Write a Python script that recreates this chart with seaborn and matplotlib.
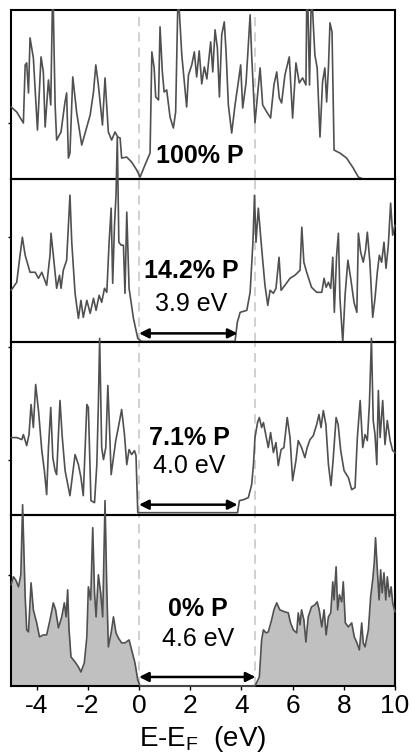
import numpy as np
import pandas as pd
import seaborn as sns
import matplotlib.pyplot as plt

# DOS curves (energy in eV, DOS in arbitrary units)
e_100 = [-5.00, -4.78, -4.52, -4.45, -4.39, -4.32, -4.26, -4.13, -3.97, -3.83, -3.74, -3.67, -3.54, -3.45, -3.39, -3.35,
         -3.28, -3.22, -3.05, -2.90, -2.83, -2.76, -2.70, -2.59, -2.44, -2.24, -1.91, -1.78, -1.69, -1.59, -1.43, -1.33,
         -1.20, -1.07, -0.94, -0.83, -0.74, -0.68, -0.48, -0.29, -0.09, 0.04, 0.23, 0.43, 0.50, 0.59, 0.65, 0.76, 0.82,
         0.91, 0.98, 1.08, 1.21, 1.34, 1.43, 1.51, 1.57, 1.67, 1.86, 1.93, 2.06, 2.16, 2.25, 2.35, 2.45, 2.55, 2.65,
         2.72, 2.80, 2.88, 2.97, 3.06, 3.14, 3.23, 3.33, 3.40, 3.49, 3.62, 3.75, 3.88, 3.97, 4.05, 4.18, 4.27, 4.34,
         4.40, 4.47, 4.53, 4.63, 4.73, 4.83, 4.99, 5.14, 5.27, 5.38, 5.48, 5.57, 5.70, 5.87, 6.00, 6.13, 6.26, 6.39,
         6.52, 6.55, 6.60, 6.66, 6.72, 6.78, 6.87, 6.96, 7.07, 7.17, 7.26, 7.33, 7.40, 7.46, 7.54, 7.62, 7.85, 8.11,
         8.37, 8.57, 8.76, 10.00]
dos_100 = [72, 67, 56, 114, 116, 86, 141, 121, 49, 122, 107, 52, 99, 74, 169, 169,
           74, 39, 47, 76, 86, 21, 26, 102, 67, 34, 64, 87, 114, 94, 54, 101,
           47, 39, 47, 42, 41, 21, 22, 17, 9, 2, 14, 26, 127, 111, 82, 79, 152,
           107, 87, 89, 62, 51, 67, 169, 169, 124, 72, 104, 114, 127, 102, 128, 95, 112, 100,
           118, 137, 107, 149, 131, 82, 144, 157, 127, 74, 46, 74, 97, 114, 71, 96, 134, 164,
           124, 87, 56, 84, 111, 74, 67, 61, 94, 107, 81, 76, 104, 122, 61, 116, 96, 101,
           94, 169, 169, 94, 169, 169, 124, 111, 42, 97, 111, 77, 111, 156, 147, 29, 26, 21,
           11, 2, 0, 0]

e_142 = [-5.00, -4.78, -4.65, -4.56, -4.45, -4.26, -4.06, -3.93, -3.80, -3.61, -3.48, -3.44, -3.35, -3.22, -3.11, -3.05,
         -2.96, -2.83, -2.70, -2.63, -2.50, -2.37, -2.27, -2.18, -2.04, -1.91, -1.78, -1.68, -1.56, -1.46, -1.35, -1.26,
         -1.17, -1.09, -1.03, -0.96, -0.90, -0.85, -0.79, -0.70, -0.61, -0.55, -0.48, -0.39, -0.22, -0.05, 0.10, 3.75,
         3.84, 3.95, 4.21, 4.34, 4.45, 4.51, 4.57, 4.66, 4.79, 4.92, 5.03, 5.12, 5.25, 5.35, 5.47, 5.55, 5.70, 5.90,
         6.09, 6.29, 6.36, 6.44, 6.55, 6.74, 6.94, 7.14, 7.23, 7.31, 7.40, 7.49, 7.57, 7.63, 7.72, 7.79, 7.85, 7.96,
         8.05, 8.16, 8.27, 8.40, 8.51, 8.57, 8.66, 8.76, 8.85, 8.92, 9.02, 9.13, 9.22, 9.31, 9.39, 9.48, 9.57, 9.65,
         9.74, 9.83, 9.91, 10.00]
dos_142 = [52, 60, 87, 105, 87, 70, 70, 64, 70, 57, 87, 109, 87, 54, 67, 54,
           72, 82, 147, 100, 49, 24, 42, 25, 42, 29, 44, 32, 47, 40, 54, 50,
           100, 134, 59, 117, 147, 205, 100, 97, 97, 49, 130, 54, 24, 4, 1, 1,
           20, 30, 32, 50, 100, 147, 100, 134, 94, 57, 37, 52, 49, 54, 85, 52, 57, 64,
           67, 72, 115, 80, 70, 55, 50, 50, 64, 55, 60, 54, 85, 30, 87, 109, 44, 0,
           47, 82, 64, 40, 30, 109, 90, 80, 92, 110, 80, 25, 44, 70, 87, 80, 100, 74,
           97, 139, 107, 117]

e_71 = [-5.00, -4.78, -4.58, -4.52, -4.39, -4.30, -4.22, -4.13, -4.04, -3.93, -3.80, -3.70, -3.61, -3.54, -3.45, -3.37,
        -3.28, -3.22, -3.15, -3.09, -3.00, -2.89, -2.70, -2.50, -2.37, -2.27, -2.18, -2.04, -1.98, -1.88, -1.74, -1.65,
        -1.59, -1.54, -1.46, -1.39, -1.30, -1.22, -1.16, -1.09, -1.00, -0.91, -0.81, -0.68, -0.57, -0.48, -0.39, -0.29,
        -0.18, -0.12, -0.05, 3.85, 3.92, 4.08, 4.27, 4.40, 4.47, 4.53, 4.63, 4.70, 4.79, 4.86, 4.95, 5.05, 5.14, 5.25,
        5.35, 5.44, 5.55, 5.66, 5.79, 5.90, 6.00, 6.13, 6.22, 6.35, 6.48, 6.57, 6.68, 6.81, 6.94, 7.03, 7.11, 7.20,
        7.30, 7.40, 7.50, 7.59, 7.70, 7.78, 7.88, 8.01, 8.18, 8.31, 8.44, 8.53, 8.64, 8.74, 8.83, 8.92, 9.00, 9.08,
        9.15, 9.22, 9.29, 9.35, 9.42, 9.52, 9.61, 9.70, 9.81, 9.91, 10.00]
dos_71 = [77, 77, 75, 80, 69, 80, 110, 87, 130, 104, 64, 44, 20, 67, 107, 57,
          44, 40, 80, 114, 77, 44, 19, 60, 50, 37, 19, 110, 107, 14, 12, 50,
          110, 176, 67, 55, 67, 129, 90, 40, 57, 74, 87, 105, 80, 50, 65, 60,
          64, 59, 2, 2, 14, 15, 17, 30, 50, 77, 92, 97, 87, 92, 80, 67, 82, 62,
          72, 49, 65, 67, 97, 77, 34, 54, 74, 67, 57, 67, 75, 79, 90, 100, 87, 104,
          90, 50, 29, 57, 97, 90, 64, 44, 37, 25, 27, 77, 114, 67, 80, 74, 110, 176,
          94, 80, 50, 124, 77, 114, 70, 94, 74, 64, 62]

e_0 = [-5.00, -4.91, -4.82, -4.71, -4.62, -4.55, -4.45, -4.39, -4.32, -4.22, -4.13, -4.00, -3.89, -3.74, -3.61, -3.48,
       -3.35, -3.26, -3.15, -3.02, -2.92, -2.85, -2.79, -2.74, -2.66, -2.50, -2.37, -2.27, -2.14, -2.04, -1.98, -1.89,
       -1.81, -1.74, -1.68, -1.59, -1.50, -1.42, -1.33, -1.26, -1.20, -1.09, -1.00, -0.90, -0.81, -0.68, -0.55, -0.39,
       -0.29, -0.16, -0.05, 0.04, 4.53, 4.70, 4.79, 4.86, 4.96, 5.05, 5.18, 5.27, 5.38, 5.50, 5.70, 5.83, 5.92, 6.03,
       6.16, 6.22, 6.29, 6.35, 6.44, 6.52, 6.61, 6.74, 6.87, 6.96, 7.04, 7.14, 7.23, 7.31, 7.40, 7.49, 7.57, 7.62,
       7.70, 7.76, 7.83, 7.92, 7.98, 8.06, 8.18, 8.31, 8.41, 8.50, 8.61, 8.70, 8.76, 8.83, 8.96, 9.05, 9.13, 9.19,
       9.24, 9.31, 9.38, 9.44, 9.50, 9.57, 9.64, 9.70, 9.78, 9.85, 9.91, 10.00]
dos_0 = [101, 109, 106, 99, 111, 181, 89, 56, 54, 103, 76, 63, 49, 51, 51, 66,
         83, 76, 58, 69, 83, 69, 96, 58, 29, 24, 19, 14, 23, 49, 99, 86,
         158, 93, 69, 111, 93, 69, 185, 96, 39, 53, 69, 53, 48, 43, 43, 46,
         36, 23, 6, 0, 0, 9, 46, 56, 53, 54, 66, 76, 83, 76, 74, 73, 63, 56,
         53, 73, 61, 76, 66, 44, 69, 79, 81, 84, 76, 59, 76, 51, 69, 73, 104, 86,
         119, 76, 91, 84, 104, 63, 59, 63, 49, 44, 36, 63, 43, 39, 56, 89, 106, 123,
         148, 116, 86, 116, 93, 113, 86, 109, 89, 99, 83, 74]

labels = ["100% P", "14.2% P", "7.1% P", "0% P"]
gap_text = [None, "3.9 eV", "4.0 eV", "4.6 eV"]
gap_end = [None, 3.85, 3.85, 4.55]
edges = [0.0, 4.55]

sns.set_style("ticks")
plt.rcParams['font.family'] = ['Liberation Sans', 'DejaVu Sans']
plt.rcParams['mathtext.fontset'] = 'custom'
plt.rcParams['mathtext.rm'] = 'Liberation Sans'
plt.rcParams['axes.unicode_minus'] = False
plt.rcParams['text.color'] = 'black'
plt.rcParams['xtick.color'] = 'black'
plt.rcParams['ytick.color'] = 'black'
plt.rcParams['axes.labelcolor'] = 'black'

curves = [(e_100, dos_100), (e_142, dos_142), (e_71, dos_71), (e_0, dos_0)]
heights = [169, 163, 172, 171]
yticks = [[56], [105], [55, 167], [111]]
label_pos = [(2.38, 23), (2.03, 71), (1.95, 77), (2.3, 77)]
gap_pos = [None, (2.03, 38), (1.95, 49), (2.3, 47)]
arrow_y = [None, 9, 10, 9]

fig = plt.figure(figsize=(4.11, 7.55), dpi=100)
gs = fig.add_gridspec(4, 1, height_ratios=heights, hspace=0,
                      left=0.027, right=0.961, top=0.987, bottom=0.0914)

line_col = "#505050"
for i, (e, d) in enumerate(curves):
    ax = fig.add_subplot(gs[i])
    ax.set_facecolor("none")
    df = pd.DataFrame({"E": e, "DOS": d})
    for x0 in edges:
        ax.axvline(x0, color="#c4c4c4", ls=(0, (6, 4)), lw=1.1, zorder=0)
    if i == 3:
        ax.fill_between(df["E"], df["DOS"], color="#c0c0c0", lw=0, zorder=1)
    sns.lineplot(data=df, x="E", y="DOS", ax=ax, color=line_col, lw=1.2,
                 estimator=None, sort=False, clip_on=False, zorder=3)
    ax.set_xlim(-5, 10)
    ax.set_ylim(0, heights[i])
    ax.set_xlabel("")
    ax.set_ylabel("")
    ax.set_yticks(yticks[i])
    ax.set_yticklabels([])
    ax.tick_params(axis="y", direction="out", length=2, width=1)
    for s in ax.spines.values():
        s.set_linewidth(1.5)
        s.set_color("black")

    ax.text(*label_pos[i], labels[i], ha="center", va="center",
            fontsize=18, fontweight="bold", zorder=5)
    if gap_text[i] is not None:
        ax.text(*gap_pos[i], gap_text[i], ha="center", va="center",
                fontsize=18, zorder=5)
        ax.annotate("", xy=(gap_end[i], arrow_y[i]), xytext=(0, arrow_y[i]),
                    arrowprops=dict(arrowstyle="<|-|>", color="black", lw=1.8,
                                    shrinkA=0, shrinkB=0, mutation_scale=14),
                    zorder=5)

    if i < 3:
        ax.set_xticks([])
    else:
        ax.set_xticks([-4, -2, 0, 2, 4, 6, 8, 10])
        ax.tick_params(axis="x", direction="out", length=3, width=1,
                       labelsize=19, pad=3)
        ax.set_xlabel("E-E$_\\mathrm{F}$  (eV)", fontsize=20, labelpad=4)

plt.savefig("out.png", dpi=100)
